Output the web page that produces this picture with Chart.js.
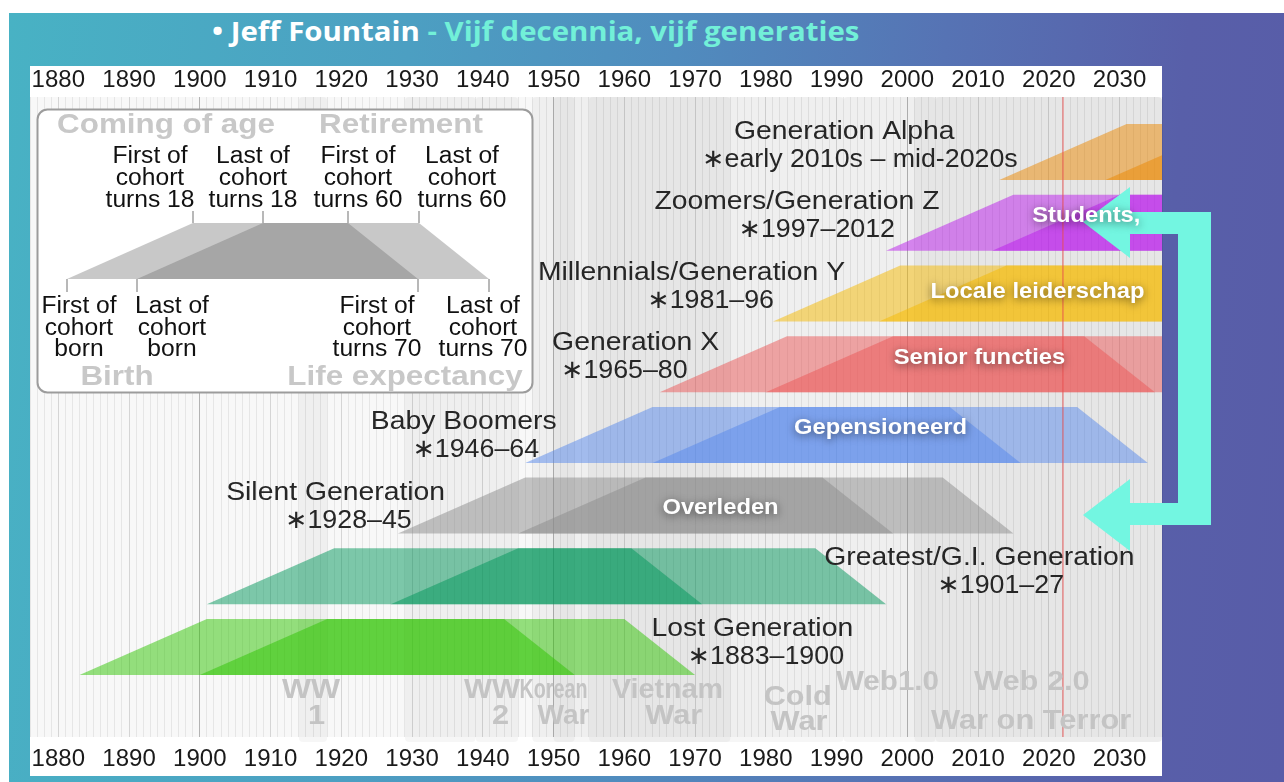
<!DOCTYPE html>
<html>
<head>
<meta charset="utf-8">
<script src="https://cdn.jsdelivr.net/npm/chart.js@4.4.0/dist/chart.umd.min.js"></script>
<style>
  html, body { margin: 0; padding: 0; width: 1284px; height: 782px; overflow: hidden; background: #fff; }
  #slide {
    position: absolute; left: 9px; top: 13px; width: 1275px; height: 769px;
    background: linear-gradient(95deg, #48b2c4 0%, #4c9fc2 30%, #508cbe 50%, #5673b4 70%, #585fa9 88%, #585ca8 100%);
  }
  #title {
    position: absolute; left: 212px; top: 13px; line-height: 40px;
    font: 700 26px 'Open Sans', sans-serif; color: #fff; white-space: nowrap;
    transform: scaleX(1.13); transform-origin: left center;
  }
  #title .sub { color: #72f0d8; }
  #chart { position: absolute; left: 0; top: 0; }
</style>
</head>
<body>
<div id="slide"></div>
<div id="title"><span>• Jeff Fountain</span><span class="sub"> - Vijf decennia, vijf generaties</span></div>
<canvas id="chart" width="1284" height="782"></canvas>
<script>
// jaren op de as
const tickYears = [1880, 1890, 1900, 1910, 1920, 1930, 1940, 1950, 1960, 1970, 1980, 1990, 2000, 2010, 2020, 2030];

// generaties, van onder naar boven
const generations = ['Lost Generation', 'Greatest/G.I. Generation', 'Silent Generation', 'Baby Boomers',
  'Generation X', 'Millennials/Generation Y', 'Zoomers/Generation Z', 'Generation Alpha'];
const birthSpans = ['∗1883–1900', '∗1901–27', '∗1928–45', '∗1946–64', '∗1965–80', '∗1981–96', '∗1997–2012',
  '∗early 2010s – mid-2020s'];
const firstBorn = [1883, 1901, 1928, 1946, 1965, 1981, 1997, 2013];
const lastBorn = [1900, 1927, 1945, 1964, 1980, 1996, 2012, 2028];
// leeftijden: geboorte, volwassen, pensioen, levensverwachting
const lifeStages = [0, 18, 60, 70];

// rollen per generatie (wit op de balk)
const roles = ['Overleden', 'Gepensioneerd', 'Senior functies', 'Locale leiderschap', 'Students,'];
const roleGeneration = [2, 3, 4, 5, 6];

// gebeurtenissen op de achtergrond
const eventLines = [['WW', '1'], [], ['WW', '2'], ['Korean', 'War'], ['Vietnam', 'War'], ['Cold', 'War'],
  ['Web1.0'], ['Web 2.0'], ['War on Terror']];
const eventStart = [1914, 1929, 1939, 1950, 1955, 1947, 1991, 2004, 2001];
const eventEnd = [1918, 1939, 1945, 1953, 1975, 1991, 2004, 2036, 2036];

const currentYear = 2022;

// ---- opmaak ----
const X_MIN = 1876, X_MAX = 2036, Y_MAX = 9.052;
const ROW_BASE = 0.877, ROW_H = 0.792;
const genColors = ['rgba(45,195,0,0.5)', 'rgba(0,150,90,0.5)', 'rgba(140,140,140,0.5)', 'rgba(85,135,235,0.5)',
  'rgba(235,85,85,0.5)', 'rgba(245,185,0,0.5)', 'rgba(185,25,235,0.5)', 'rgba(235,135,0,0.5)'];
// [jaar naam, jaar datum, px onder bovenkant balk]
const genLabelAt = [[1978.1, 1980.0, 10], [2010.2, 2013.2, 10], [1919.2, 1921.0, 15], [1937.3, 1939.0, 15],
  [1961.6, 1960.0, 7], [1969.5, 1972.2, 7], [1984.4, 1987.2, 7], [1991.1, 1993.3, 8]];
const roleAt = [[1973.6, 2], [1996.2, -7], [2010.2, -6], [2018.4, -2], [2025.3, -7]];
// per regel: [jaar, y px, max breedte]
const eventLabelAt = [
  [[1915.7, 690, 58], [1916.5, 716]], [], [[1941.3, 690, 56], [1942.5, 716]],
  [[1950.0, 690, 68], [1951.4, 716, 52]], [[1966.1, 690, 111], [1967.0, 716]],
  [[1984.5, 697, 68], [1984.7, 722]], [[1997.2, 682, 103]], [[2017.6, 682]], [[2017.5, 721]]
];

const FONT = "'Liberation Sans', Arial, 'DejaVu Sans', sans-serif";

function say(ctx, text, x, y, font, color, o) {
  o = o || {};
  const sx = o.sx || 1.1;
  ctx.save();
  ctx.font = font;
  ctx.fillStyle = color;
  ctx.textAlign = o.align || 'center';
  ctx.textBaseline = o.base || 'middle';
  if (o.shadow) { ctx.shadowColor = o.shadow; ctx.shadowBlur = 8; ctx.shadowOffsetY = 2; }
  ctx.translate(x, y);
  ctx.scale(sx, 1);
  if (o.maxW) ctx.fillText(text, 0, 0, o.maxW / sx); else ctx.fillText(text, 0, 0);
  ctx.restore();
}

function cohort(born, i) {
  const b = ROW_BASE + i, t = b + ROW_H;
  return lifeStages.map((age, k) => ({ x: born + age, y: (k === 0 || k === 3) ? b : t }));
}

const datasets = [{
  data: [{ x: currentYear, y: 0 }, { x: currentYear, y: Y_MAX }],
  borderColor: 'rgba(235,80,80,0.6)', borderWidth: 1.5, pointRadius: 0, fill: false
}];
generations.forEach((g, i) => {
  [firstBorn[i], lastBorn[i]].forEach(born => {
    datasets.push({
      label: g,
      data: cohort(born, i),
      borderColor: 'rgba(0,0,0,0)', borderWidth: 1, pointRadius: 0,
      backgroundColor: genColors[i],
      fill: { value: ROW_BASE + i }
    });
  });
});

const allYears = [];
for (let y = X_MIN; y <= X_MAX; y++) allYears.push(y);

const panel = {
  id: 'panel',
  beforeDraw(chart) {
    const ctx = chart.ctx, a = chart.chartArea;
    ctx.save();
    ctx.fillStyle = '#fff';
    ctx.fillRect(30, 66, 1132, 710);
    ctx.fillStyle = '#f8f8f8';
    ctx.fillRect(a.left, a.top, a.right - a.left, a.bottom - a.top);
    ctx.restore();
  },
  beforeDatasetsDraw(chart) {
    const ctx = chart.ctx, a = chart.chartArea, x = chart.scales.x;
    ctx.save();
    ctx.beginPath();
    ctx.rect(a.left, a.top, a.right - a.left, a.bottom - a.top + 8);
    ctx.clip();
    eventStart.forEach((s, i) => {
      const x1 = x.getPixelForValue(s), x2 = x.getPixelForValue(eventEnd[i]);
      ctx.beginPath();
      ctx.roundRect(x1, a.top, x2 - x1, a.bottom - a.top + 5, 4);
      ctx.fillStyle = 'rgba(0,0,0,0.035)';
      ctx.fill();
    });
    ctx.restore();
  },
  afterDatasetsDraw(chart) {
    const ctx = chart.ctx, x = chart.scales.x, y = chart.scales.y;
    drawLegend(ctx);

    // gebeurtenissen
    eventLines.forEach((lines, i) => {
      lines.forEach((t, k) => {
        const at = eventLabelAt[i][k];
        say(ctx, t, x.getPixelForValue(at[0]), at[1], 'bold 28px ' + FONT, '#c4c4c4', { maxW: at[2] });
      });
    });

    // namen van de generaties
    generations.forEach((g, i) => {
      const top = y.getPixelForValue(ROW_BASE + i + ROW_H);
      const at = genLabelAt[i];
      say(ctx, g, x.getPixelForValue(at[0]), top + at[2], '26px ' + FONT, '#262626', { sx: 1.09 });
      say(ctx, birthSpans[i], x.getPixelForValue(at[1]), top + at[2] + 28, '26px ' + FONT, '#262626', { sx: 1.03 });
    });

    drawArrow(ctx);

    roles.forEach((r, k) => {
      const i = roleGeneration[k];
      const mid = y.getPixelForValue(ROW_BASE + i + ROW_H / 2);
      say(ctx, r, x.getPixelForValue(roleAt[k][0]), mid + roleAt[k][1], 'bold 22px ' + FONT, '#fff',
        { sx: 1.08, shadow: 'rgba(0,0,0,0.55)' });
    });
  }
};

function drawLegend(ctx) {
  ctx.save();
  ctx.beginPath();
  ctx.roundRect(37.5, 109.5, 495, 283, 10);
  ctx.fillStyle = '#fff';
  ctx.fill();
  ctx.strokeStyle = '#9c9c9c';
  ctx.lineWidth = 2;
  ctx.stroke();

  const yb = 279, yt = 223;
  const bottomX = [67, 137, 418, 489], topX = [193, 263, 348, 419];
  [[bottomX[0], topX[0], topX[2], bottomX[2]], [bottomX[1], topX[1], topX[3], bottomX[3]]].forEach(p => {
    ctx.beginPath();
    ctx.moveTo(p[0], yb); ctx.lineTo(p[1], yt); ctx.lineTo(p[2], yt); ctx.lineTo(p[3], yb);
    ctx.closePath();
    ctx.fillStyle = 'rgba(110,110,110,0.38)';
    ctx.fill();
  });
  ctx.strokeStyle = '#a0a0a0';
  ctx.lineWidth = 1.5;
  topX.forEach(px => { ctx.beginPath(); ctx.moveTo(px, 211); ctx.lineTo(px, yt); ctx.stroke(); });
  bottomX.forEach(px => { ctx.beginPath(); ctx.moveTo(px, yb); ctx.lineTo(px, 292); ctx.stroke(); });
  ctx.restore();

  const small = '23px ' + FONT;
  const topText = [['First of', 'cohort', 'turns 18'], ['Last of', 'cohort', 'turns 18'],
    ['First of', 'cohort', 'turns 60'], ['Last of', 'cohort', 'turns 60']];
  const botText = [['First of', 'cohort', 'born'], ['Last of', 'cohort', 'born'],
    ['First of', 'cohort', 'turns 70'], ['Last of', 'cohort', 'turns 70']];
  [150, 253, 358, 462].forEach((cx, k) => topText[k].forEach((t, j) =>
    say(ctx, t, cx, 163 + j * 22, small, '#111', { base: 'alphabetic', sx: 1.07 })));
  [79, 172, 377, 483].forEach((cx, k) => botText[k].forEach((t, j) =>
    say(ctx, t, cx, 313 + j * 21.5, small, '#111', { base: 'alphabetic', sx: 1.07 })));

  const big = 'bold 28px ' + FONT;
  say(ctx, 'Coming of age', 166, 133, big, '#c8c8c8', { base: 'alphabetic', sx: 1.12 });
  say(ctx, 'Retirement', 401, 133, big, '#c8c8c8', { base: 'alphabetic', sx: 1.12 });
  say(ctx, 'Birth', 117, 385, big, '#c8c8c8', { base: 'alphabetic', sx: 1.12 });
  say(ctx, 'Life expectancy', 405, 385, big, '#c8c8c8', { base: 'alphabetic', sx: 1.12 });
}

function drawArrow(ctx) {
  const pts = [[1083, 222], [1130, 187], [1130, 212], [1211, 212], [1211, 525], [1130, 525], [1130, 551],
    [1083, 515], [1130, 479], [1130, 503], [1178, 503], [1178, 234], [1130, 234], [1130, 258]];
  ctx.save();
  ctx.beginPath();
  pts.forEach((p, k) => k ? ctx.lineTo(p[0], p[1]) : ctx.moveTo(p[0], p[1]));
  ctx.closePath();
  ctx.fillStyle = '#73f6e1';
  ctx.fill();
  ctx.restore();
}

const axisFont = { family: FONT, size: 24 };
const yearLabel = v => String(v);

new Chart(document.getElementById('chart'), {
  type: 'line',
  data: { datasets: datasets },
  options: {
    responsive: false,
    animation: false,
    devicePixelRatio: 1,
    layout: { padding: { left: 30, right: 122, top: 66, bottom: 6 } },
    plugins: { legend: { display: false }, tooltip: { enabled: false } },
    scales: {
      x: {
        type: 'linear', position: 'bottom', min: X_MIN, max: X_MAX,
        afterBuildTicks: s => { s.ticks = tickYears.map(v => ({ value: v })); },
        afterFit: s => { s.height = 39; },
        grid: { display: false, drawTicks: false },
        border: { display: false },
        ticks: { font: axisFont, color: '#1a1a1a', padding: 8, maxRotation: 0, minRotation: 0, autoSkip: false, callback: yearLabel }
      },
      xTop: {
        type: 'linear', position: 'top', min: X_MIN, max: X_MAX,
        afterBuildTicks: s => { s.ticks = tickYears.map(v => ({ value: v })); },
        afterFit: s => { s.height = 31; },
        grid: { display: false, drawTicks: false },
        border: { display: false },
        ticks: { font: axisFont, color: '#1a1a1a', padding: 2, maxRotation: 0, minRotation: 0, autoSkip: false, callback: yearLabel }
      },
      xg: {
        type: 'linear', position: 'bottom', min: X_MIN, max: X_MAX,
        afterBuildTicks: s => { s.ticks = allYears.map(v => ({ value: v })); },
        afterFit: s => { s.height = 0; },
        grid: {
          drawTicks: false,
          color: c => c.tick.value % 50 === 0 ? 'rgba(0,0,0,0.28)' : (c.tick.value % 10 === 0 ? 'rgba(0,0,0,0.14)' : 'rgba(0,0,0,0.07)')
        },
        border: { display: false },
        ticks: { display: false }
      },
      y: { type: 'linear', display: false, min: 0, max: Y_MAX }
    }
  },
  plugins: [panel]
});
</script>
</body>
</html>
